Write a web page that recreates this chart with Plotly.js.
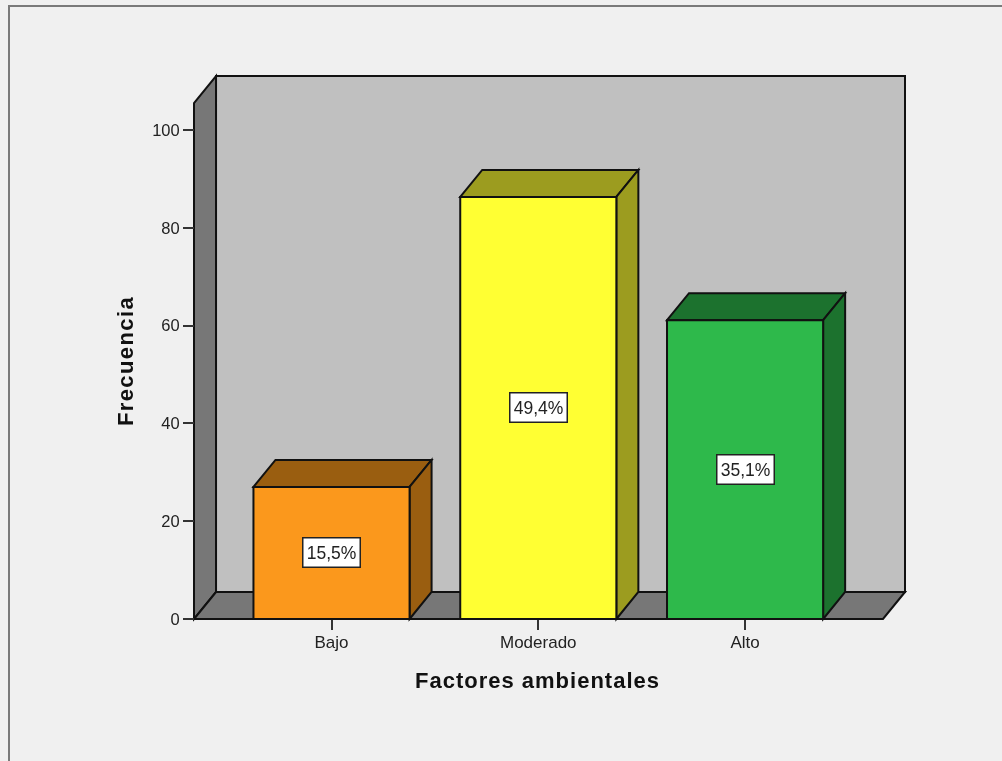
<!DOCTYPE html>
<html>
<head>
<meta charset="utf-8">
<script src="https://cdn.plot.ly/plotly-3.0.1.min.js"></script>
<style>
html,body{margin:0;padding:0;background:#f0f0f0;overflow:hidden}
#frame{position:absolute;left:8px;top:5px;width:1100px;height:900px;border-left:2px solid #7a7a7a;border-top:2px solid #7a7a7a}
#chart{position:absolute;left:0;top:0;width:1002px;height:761px;filter:blur(0.45px)}
.xtitle{letter-spacing:1px}
.ytitle{letter-spacing:1.4px}
</style>
</head>
<body>
<div id="frame"></div>
<div id="chart"></div>
<script>
const categories = ['Bajo', 'Moderado', 'Alto'];
const frequencies = [27, 86.3, 61.1];
const percentLabels = ['15,5%', '49,4%', '35,1%'];
const labelLevels = [13.5, 43.2, 30.5];
const frontColors = ['#fb981c', '#ffff33', '#2eb94b'];
const shadeColors = ['#9a5e10', '#9c9c1f', '#1c722e'];
const yTicks = [0, 20, 40, 60, 80, 100];

const wallColor = '#c0c0c0', sideColor = '#777777', edge = '#111111';
const pxPerCat = 206.7, pxPerUnit = 4.89;
const W = 1002, H = 761;
// The plot area is wider than the walls so the axis titles centre where the reference has them.
const plotL = 168, plotR = 907, plotT = 68, plotB = 654;
const padL = 194 - plotL, padR = plotR - 905, padT = 76 - plotT, padB = plotB - 619;
const xFront0 = -0.665, xFront1 = 2.667, depthX = 22 / pxPerCat, depthY = 27 / pxPerUnit;
const yTop = 111.04, barWidth = 0.755;
const indexes = categories.map((_, i) => i);

const poly = (pts, fill) => ({
  type: 'path', xref: 'x', yref: 'y', layer: 'below',
  path: 'M' + pts.map(p => p[0] + ',' + p[1]).join('L') + 'Z',
  fillcolor: fill, line: {color: edge, width: 2}
});

const shapes = [
  poly([[xFront0 + depthX, depthY], [xFront1 + depthX, depthY], [xFront1 + depthX, yTop], [xFront0 + depthX, yTop]], wallColor),
  poly([[xFront0, 0], [xFront0 + depthX, depthY], [xFront0 + depthX, yTop], [xFront0, yTop - depthY]], sideColor),
  poly([[xFront0, 0], [xFront1, 0], [xFront1 + depthX, depthY], [xFront0 + depthX, depthY]], sideColor)
];
indexes.forEach(i => {
  const l = i - barWidth / 2, r = i + barWidth / 2, v = frequencies[i];
  shapes.push(poly([[l, v], [l + depthX, v + depthY], [r + depthX, v + depthY], [r, v]], shadeColors[i]));
  shapes.push(poly([[r, 0], [r + depthX, depthY], [r + depthX, v + depthY], [r, v]], shadeColors[i]));
});

const annotations = indexes.map(i => ({
  x: i, y: labelLevels[i], xref: 'x', yref: 'y', text: percentLabels[i], showarrow: false,
  font: {family: 'Liberation Sans', size: 17.5, color: '#222'},
  bgcolor: '#ffffff', bordercolor: '#222222', borderwidth: 1.5, width: 56, height: 28, borderpad: 0
}));

const data = [{
  type: 'bar', x: indexes, y: frequencies, width: barWidth,
  marker: {color: frontColors, line: {color: edge, width: 2}},
  hoverinfo: 'skip'
}];

const layout = {
  width: W, height: H, showlegend: false,
  paper_bgcolor: 'rgba(0,0,0,0)', plot_bgcolor: 'rgba(0,0,0,0)',
  margin: {l: plotL, r: W - plotR, t: plotT, b: H - plotB, pad: 0},
  font: {family: 'Liberation Sans', color: '#222'},
  xaxis: {
    range: [xFront0 - padL / pxPerCat, xFront1 + depthX + padR / pxPerCat],
    tickmode: 'array', tickvals: indexes, ticktext: categories,
    anchor: 'free', position: padB / (plotB - plotT),
    ticks: 'outside', ticklen: 10, tickwidth: 2, tickcolor: '#333',
    ticklabelstandoff: -2,
    tickfont: {size: 17}, showgrid: false, zeroline: false, showline: false,
    title: {text: '<b>Factores ambientales</b>', font: {size: 22, color: '#111'}, standoff: 21}
  },
  yaxis: {
    range: [-padB / pxPerUnit, yTop + padT / pxPerUnit],
    tickmode: 'array', tickvals: yTicks,
    anchor: 'free', position: padL / (plotR - plotL),
    ticks: 'outside', ticklen: 11, tickwidth: 2, tickcolor: '#333',
    tickfont: {size: 16.5}, showgrid: false, zeroline: false, showline: false,
    title: {text: '<b>Frecuencia</b>', font: {size: 22, color: '#111'}, standoff: 11}
  },
  shapes: shapes,
  annotations: annotations
};

Plotly.newPlot('chart', data, layout, {displayModeBar: false, staticPlot: true});
</script>
</body>
</html>
